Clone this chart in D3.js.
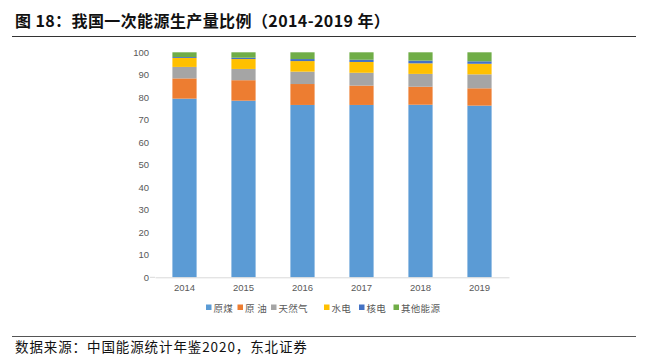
<!DOCTYPE html>
<html><head><meta charset="utf-8">
<script src="https://cdn.jsdelivr.net/npm/d3@7/dist/d3.min.js"></script>
<style>
html,body{margin:0;padding:0;background:#fff;}
svg{display:block;}
</style>
</head><body>
<svg id="c" width="650" height="358"></svg>
<script>
const years = ["2014","2015","2016","2017","2018","2019"];
const seriesNames = ["原煤","原 油","天然气","水电","核电","其他能源"];
const coal    = [79.4, 78.5, 76.6, 76.6, 76.7, 76.3];
const oil     = [9.0, 9.1, 9.3, 8.6, 8.0, 7.7];
const gas     = [5.1, 5.0, 5.5, 5.7, 5.7, 6.2];
const hydro   = [4.0, 4.4, 4.7, 4.8, 4.7, 4.7];
const nuclear = [0.4, 0.6, 0.9, 1.0, 1.2, 1.1];
const other   = [2.1, 2.4, 3.0, 3.3, 3.7, 4.0];
const yTicks  = [0,10,20,30,40,50,60,70,80,90,100];
const colors  = ["#5B9BD5","#ED7D31","#A5A5A5","#FFC000","#4472C4","#70AD47"];

const seriesVals = [coal, oil, gas, hydro, nuclear, other];
const rows = years.map((y,i)=>{ const r={year:y}; seriesNames.forEach((n,k)=>r[n]=seriesVals[k][i]); return r; });
const stack = d3.stack().keys(seriesNames)(rows);

const svg = d3.select("#c");
const cjk = "'Noto Sans CJK SC','Noto Sans',sans-serif";

// title
svg.append("text").attr("x",15).attr("y",27).attr("font-family",cjk).attr("font-size",16)
  .attr("font-weight","bold").attr("letter-spacing",0.4).attr("fill","#111").text("图 18：我国一次能源生产量比例（2014-2019 年）");
svg.append("line").attr("x1",12).attr("x2",636).attr("y1",36.5).attr("y2",36.5).attr("stroke","#333").attr("stroke-width",1);

const x = d3.scaleBand().domain(years).range([155,509]).paddingInner(0.59).paddingOuter(0.295);
const y = d3.scaleLinear().domain([0,100]).range([277.3,52.3]);

// bars
svg.append("g").selectAll("g").data(stack).join("g").attr("fill",(d,i)=>colors[i])
  .selectAll("rect").data(d=>d).join("rect")
  .attr("x",d=>x(d.data.year)).attr("width",x.bandwidth())
  .attr("y",d=>y(d[1])).attr("height",d=>y(d[0])-y(d[1]));

// y axis
const ya = svg.append("g").attr("transform","translate(155,0)")
  .call(d3.axisLeft(y).tickValues(yTicks).tickSize(0).tickPadding(6));
ya.select(".domain").remove();
ya.selectAll("text").attr("font-family","Arial,'Liberation Sans',sans-serif").attr("font-size",9.5).attr("fill","#595959");
ya.append("line").attr("x1",-5).attr("x2",0).attr("y1",y(0)).attr("y2",y(0)).attr("stroke","#d9d9d9");

// x axis
const xa = svg.append("g").attr("transform",`translate(0,${y(0)})`)
  .call(d3.axisBottom(x).tickSize(0).tickPadding(7));
xa.select(".domain").attr("stroke","#d9d9d9").attr("stroke-width",1);
xa.selectAll("text").attr("font-family","Arial,'Liberation Sans',sans-serif").attr("font-size",9.5).attr("fill","#595959");

// legend
const legX = [206, 237.5, 271, 324, 359, 393.5];
const leg = svg.append("g");
seriesNames.forEach((n,i)=>{
  leg.append("rect").attr("x",legX[i]).attr("y",304.5).attr("width",5.5).attr("height",5.5).attr("fill",colors[i]);
  leg.append("text").attr("x",legX[i]+7.5).attr("y",311.5).attr("font-family",cjk).attr("font-size",9.5)
    .attr("letter-spacing",0.3).attr("fill","#595959").attr("xml:space","preserve").style("white-space","pre").text(n);
});

// footer
svg.append("line").attr("x1",12).attr("x2",636).attr("y1",336.5).attr("y2",336.5).attr("stroke","#555").attr("stroke-width",1);
svg.append("text").attr("x",15).attr("y",352).attr("font-family",cjk).attr("font-size",13.5)
  .attr("letter-spacing",0.9).attr("fill","#111").text("数据来源：中国能源统计年鉴2020，东北证券");
</script>
</body></html>
